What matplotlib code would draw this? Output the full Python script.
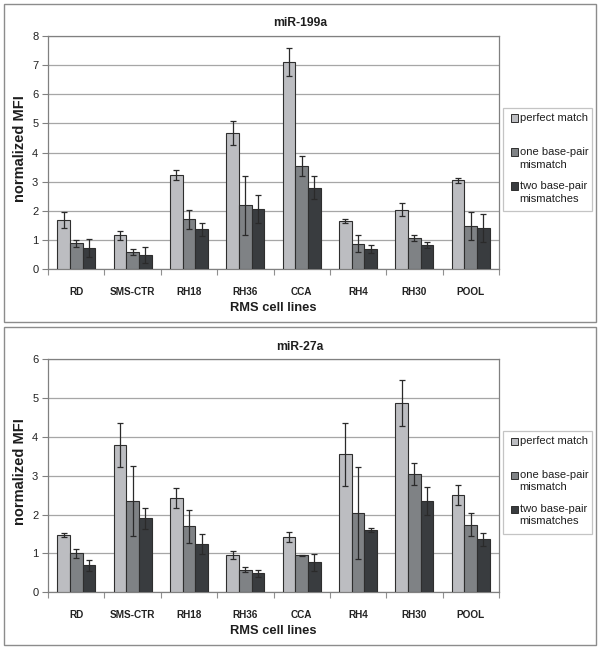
import matplotlib
matplotlib.use("Agg")
import matplotlib.pyplot as plt
import matplotlib.patches as mpatches
import numpy as np

plt.rcParams['font.family'] = ['Liberation Sans', 'DejaVu Sans']

categories = ['RD', 'SMS-CTR', 'RH18', 'RH36', 'CCA', 'RH4', 'RH30', 'POOL']
series_labels = ['perfect match', 'one base-pair\nmismatch', 'two base-pair\nmismatches']

mir199a_perfect = [1.69, 1.16, 3.23, 4.68, 7.10, 1.66, 2.04, 3.05]
mir199a_perfect_err = [0.29, 0.17, 0.18, 0.41, 0.48, 0.07, 0.22, 0.09]
mir199a_one = [0.89, 0.58, 1.71, 2.19, 3.53, 0.88, 1.07, 1.48]
mir199a_one_err = [0.12, 0.10, 0.32, 1.02, 0.34, 0.30, 0.10, 0.48]
mir199a_two = [0.73, 0.49, 1.37, 2.07, 2.80, 0.70, 0.84, 1.43]
mir199a_two_err = [0.32, 0.26, 0.22, 0.49, 0.40, 0.13, 0.11, 0.48]

mir27a_perfect = [1.47, 3.78, 2.42, 0.95, 1.42, 3.55, 4.87, 2.51]
mir27a_perfect_err = [0.06, 0.57, 0.25, 0.10, 0.13, 0.81, 0.59, 0.26]
mir27a_one = [1.00, 2.35, 1.70, 0.58, 0.95, 2.03, 3.04, 1.74]
mir27a_one_err = [0.11, 0.89, 0.42, 0.06, 0.01, 1.18, 0.29, 0.30]
mir27a_two = [0.70, 1.90, 1.24, 0.49, 0.77, 1.61, 2.35, 1.36]
mir27a_two_err = [0.14, 0.28, 0.26, 0.09, 0.22, 0.05, 0.36, 0.17]

colors = ['#bcbdc1', '#7f8285', '#393c3f']

W, H = 600, 649
fig = plt.figure(figsize=(W / 100, H / 100), dpi=100)


def fx(x):
    return x / W


def fy(y):
    return 1 - y / H


def panel(oy, title, ymax, values, errors):
    # panel border
    fig.add_artist(mpatches.Rectangle((fx(4), fy(oy + 318)), fx(592), (318) / H,
                                      transform=fig.transFigure, fill=False,
                                      edgecolor='#8c8c8c', lw=1.0))
    ax = fig.add_axes([fx(48), fy(oy + 265.3), 451 / W, 233.3 / H])
    x = np.arange(len(categories))
    bw = 0.225
    for i, (vals, errs) in enumerate(zip(values, errors)):
        ax.bar(x + (i - 1) * bw, vals, bw, color=colors[i], edgecolor='#2e2e2e',
               lw=0.8, zorder=3)
        ax.errorbar(x + (i - 1) * bw, vals, yerr=errs, fmt='none', ecolor='#2a2a2a',
                    elinewidth=0.9, capsize=2.3, capthick=0.9, zorder=4)
    ax.set_xlim(-0.5, len(categories) - 0.5)
    ax.set_ylim(0, ymax)
    ax.set_yticks(np.arange(0, ymax + 1, 1))
    ax.yaxis.grid(True, color='#a6a6a6', lw=0.9, zorder=0)
    ax.set_axisbelow(True)
    ax.tick_params(axis='y', direction='out', length=4, width=0.8, color='#808080',
                   labelsize=8, pad=3, labelcolor='#222222')
    ax.set_xticks(np.arange(-0.5, len(categories), 1))
    ax.set_xticklabels([])
    ax.set_xticks(x, minor=True)
    ax.set_xticklabels(categories, minor=True, fontsize=7.2, fontweight='bold',
                       color='#222222')
    ax.tick_params(axis='x', which='major', direction='out', length=4.5, width=0.8,
                   color='#909090')
    ax.tick_params(axis='x', which='minor', length=0, pad=12.5)
    for s in ax.spines.values():
        s.set_color('#808080')
        s.set_linewidth(0.9)
    # title, labels
    fig.text(fx(300), fy(oy + 19.5), title, ha='center', va='center', fontsize=8.7,
             fontweight='bold', color='#1e1e1e')
    fig.text(fx(20), fy(oy + 145), 'normalized MFI', rotation=90, ha='center',
             va='center', fontsize=10.5, fontweight='bold', color='#1e1e1e')
    fig.text(fx(273), fy(oy + 304), 'RMS cell lines', ha='center', va='center',
             fontsize=9.3, fontweight='bold', color='#1e1e1e')
    # legend
    lx0, ly0 = 503, oy + 104
    fig.add_artist(mpatches.Rectangle((fx(lx0), fy(ly0 + 103)), 89 / W, 103 / H,
                                      transform=fig.transFigure, fill=True,
                                      facecolor='white', edgecolor='#c4c4c4', lw=0.9))
    rows = [10, 44, 78]
    for i, lab in enumerate(series_labels):
        yc = ly0 + rows[i]
        fig.add_artist(mpatches.Rectangle((fx(lx0 + 7.5), fy(yc + 3.5)), 7 / W, 7 / H,
                                          transform=fig.transFigure,
                                          facecolor=colors[i], edgecolor='#2e2e2e',
                                          lw=0.7))
        lines = lab.split('\n')
        for j, ln in enumerate(lines):
            fig.text(fx(lx0 + 16.5), fy(yc + j * 12.5), ln, ha='left', va='center',
                     fontsize=8, color='#1e1e1e')
    return ax


panel(4, 'miR-199a', 8,
      [mir199a_perfect, mir199a_one, mir199a_two],
      [mir199a_perfect_err, mir199a_one_err, mir199a_two_err])
panel(327, 'miR-27a', 6,
      [mir27a_perfect, mir27a_one, mir27a_two],
      [mir27a_perfect_err, mir27a_one_err, mir27a_two_err])

fig.savefig('out.png', dpi=100)
